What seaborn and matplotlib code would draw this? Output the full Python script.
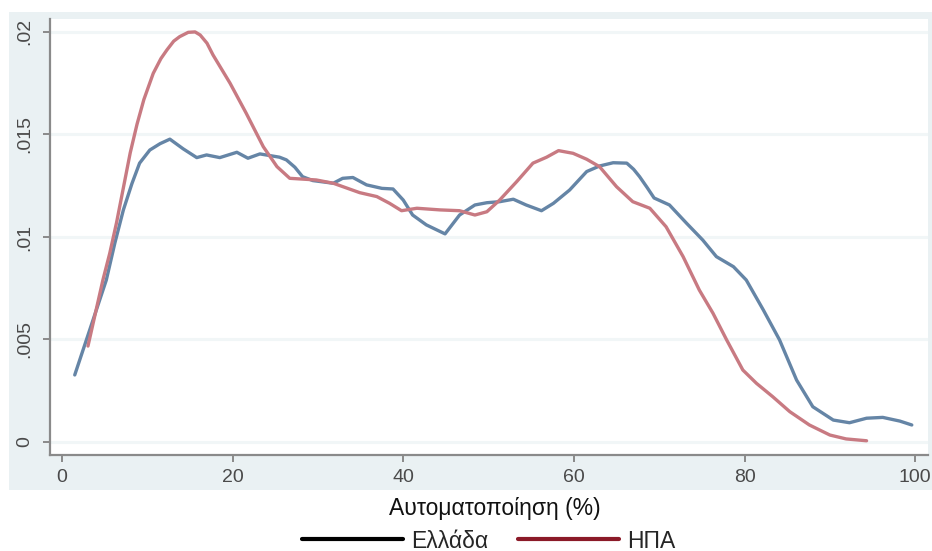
import numpy as np
import pandas as pd
import matplotlib
matplotlib.use("Agg")
import matplotlib.pyplot as plt
from matplotlib.lines import Line2D
from matplotlib.patches import Rectangle
import seaborn as sns

# Data (kernel density of automation %)
greece_x = [1.5, 5.2, 6.2, 7.2, 8.2, 9.1, 10.3, 11.5, 12.65, 14.2, 15.8, 16.95, 18.5, 20.5, 21.8,
            23.2, 25.5, 26.3, 27.3, 28.2, 29.4, 31.8, 32.9, 34.1, 35.7, 37.5, 38.8, 40.0, 41.1,
            42.7, 44.9, 46.6, 48.4, 49.8, 51.3, 52.9, 54.4, 56.2, 57.6, 59.5, 61.5, 63.0, 64.6,
            66.2, 67.0, 67.7, 68.6, 69.4, 71.2, 73.2, 75.1, 76.7, 78.7, 80.2, 82.2, 84.1, 86.1,
            88.0, 90.4, 92.3, 94.3, 96.2, 98.2, 99.6]
greece_y = [0.00327, 0.0079, 0.0097, 0.01132, 0.0126, 0.0136, 0.01424, 0.01455, 0.01477, 0.0143,
            0.01387, 0.0140, 0.01387, 0.01413, 0.01384, 0.01405, 0.01389, 0.01376, 0.0134, 0.01294,
            0.01275, 0.01262, 0.01286, 0.0129, 0.01254, 0.01237, 0.01234, 0.0118, 0.01107, 0.01059,
            0.01015, 0.01107, 0.01156, 0.01167, 0.01172, 0.01184, 0.01156, 0.01128, 0.01164,
            0.01229, 0.01319, 0.01346, 0.01362, 0.0136, 0.0133, 0.01294, 0.0124, 0.0119, 0.01156,
            0.01067, 0.00985, 0.00904, 0.00855, 0.0079, 0.00644, 0.00498, 0.00302, 0.00172,
            0.00107, 0.00094, 0.00116, 0.0012, 0.00102, 0.00083]

usa_x = [3.05, 4.8, 5.6, 6.4, 7.2, 8.0, 8.8, 9.6, 10.7, 11.6, 12.3, 13.1, 13.8, 14.8, 15.6, 16.2,
         17.0, 17.7, 19.7, 21.6, 23.6, 25.2, 26.7, 29.8, 31.8, 34.9, 36.9, 38.4, 39.8, 41.6, 44.3,
         46.6, 48.4, 49.8, 51.3, 53.3, 55.2, 56.8, 58.2, 59.9, 61.5, 63.0, 65.0, 66.9, 68.9, 70.8,
         72.8, 74.7, 76.3, 77.9, 79.8, 81.4, 83.3, 85.3, 87.6, 90.0, 91.9, 94.3]
usa_y = [0.00468, 0.0079, 0.0092, 0.0107, 0.0124, 0.0141, 0.0155, 0.0167, 0.01798, 0.0187,
         0.01912, 0.01955, 0.01977, 0.01998, 0.02, 0.01985, 0.01945, 0.01888, 0.0175, 0.01603,
         0.0144, 0.01343, 0.01286, 0.01278, 0.01262, 0.01216, 0.01197, 0.01164, 0.01128, 0.0114,
         0.01132, 0.01128, 0.01107, 0.01123, 0.0118, 0.0127, 0.0136, 0.01389, 0.01421, 0.01408,
         0.01379, 0.01343, 0.01245, 0.01172, 0.0114, 0.0105, 0.00904, 0.00741, 0.00628, 0.00498,
         0.00351, 0.00286, 0.00221, 0.00148, 0.00083, 0.00034, 0.00015, 0.00006]

series_names = ["Ελλάδα", "ΗΠΑ"]
x_ticks = [0, 20, 40, 60, 80, 100]
y_ticks = [0, 0.005, 0.01, 0.015, 0.02]
y_tick_labels = ["0", ".005", ".01", ".015", ".02"]
x_label = "Αυτοματοποίηση (%)"

df = pd.concat([
    pd.DataFrame({"x": greece_x, "y": greece_y, "country": series_names[0]}),
    pd.DataFrame({"x": usa_x, "y": usa_y, "country": series_names[1]}),
])

sns.set_theme(style="white")
plt.rcParams["font.family"] = ["Liberation Sans", "DejaVu Sans"]

fig = plt.figure(figsize=(9.32, 5.51), dpi=100)
fig.patch.set_facecolor("white")
# Stata-like graph region background
fig.add_artist(Rectangle((9 / 932, 1 - 490 / 551), (932 - 9) / 932, (490 - 12) / 551,
                         transform=fig.transFigure, facecolor="#eaf1f3", edgecolor="none", zorder=0))

ax = fig.add_axes([50 / 932, 1 - 455 / 551, (928 - 50) / 932, (455 - 19) / 551])
ax.set_facecolor("white")

line_colors = {"Ελλάδα": "#6585a6", "ΗΠΑ": "#c87a82"}
sns.lineplot(data=df, x="x", y="y", hue="country", palette=line_colors, ax=ax,
             linewidth=2.4, legend=False, estimator=None, sort=False)
for ln in ax.get_lines():
    ln.set_solid_joinstyle("round")
    ln.set_solid_capstyle("round")

ax.set_xlim(-1.4, 101.5)
ax.set_ylim(-0.000634, 0.02063)
ax.set_xticks(x_ticks)
ax.set_xticklabels([str(t) for t in x_ticks])
ax.set_yticks(y_ticks)
ax.set_yticklabels(y_tick_labels, rotation=90, va="center")

ax.grid(axis="y", color="#f1f6f7", linewidth=2.2)
ax.grid(axis="x", visible=False)

for s in ["top", "right"]:
    ax.spines[s].set_visible(False)
for s in ["left", "bottom"]:
    ax.spines[s].set_color("#8a8a8a")
    ax.spines[s].set_linewidth(1.6)

ax.tick_params(axis="both", which="major", direction="out", length=5, width=1.4,
               color="#8a8a8a", labelcolor="#4a4a4a", labelsize=14)
ax.tick_params(axis="x", pad=5)
ax.tick_params(axis="y", pad=7)
ax.tick_params(axis="both", bottom=True, left=True)

ax.set_xlabel(x_label, fontsize=16.5, color="#111111")
ax.set_ylabel("")
ax.xaxis.set_label_coords((495 - 50) / 878, (455 - 509) / 436)
ax.xaxis.label.set_va("center")

handles = [Line2D([], [], color="black", linewidth=3),
           Line2D([], [], color="#8b1a28", linewidth=3)]
fig.legend(handles, series_names, loc="center", bbox_to_anchor=(488.5 / 932, 1 - 541 / 551),
           ncol=2, frameon=False, fontsize=16.5, handlelength=4.4, handletextpad=0.35,
           columnspacing=1.3, borderpad=0, borderaxespad=0)

fig.savefig("out.png", dpi=100, facecolor="white")
